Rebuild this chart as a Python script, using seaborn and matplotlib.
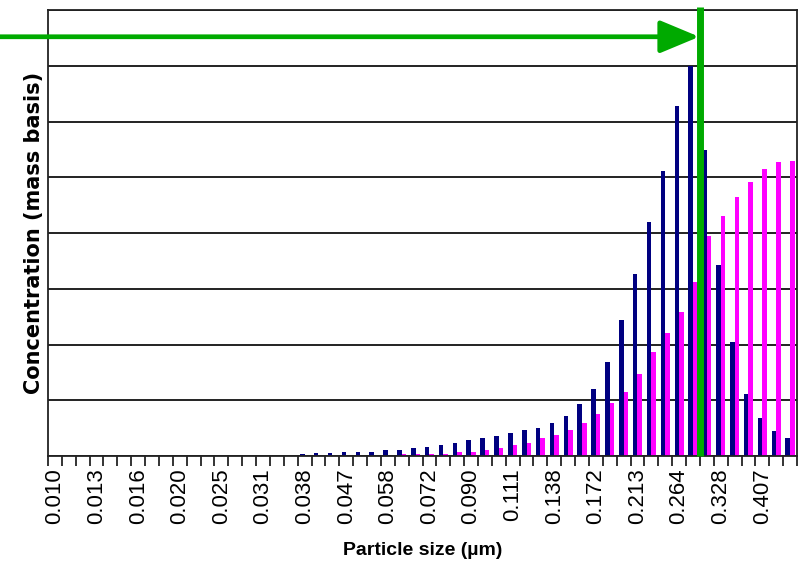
import numpy as np
import pandas as pd
import matplotlib
matplotlib.use("Agg")
import matplotlib.pyplot as plt
import seaborn as sns

# Rótulos visíveis do eixo x (um a cada 3 canais)
rotulos_x = ['0.010', '0.013', '0.016', '0.020', '0.025', '0.031', '0.038',
             '0.047', '0.058', '0.072', '0.090', '0.111', '0.138', '0.172',
             '0.213', '0.264', '0.328', '0.407']

serie_azul = [0.0] * 18 + [
    0.04, 0.045, 0.05, 0.07, 0.07, 0.08, 0.10, 0.11, 0.14, 0.16,
    0.20, 0.23, 0.29, 0.32, 0.36, 0.42, 0.47, 0.51, 0.60, 0.72,
    0.93, 1.21, 1.69, 2.44, 3.26, 4.19, 5.11, 6.27, 7.00, 5.49,
    3.43, 2.04, 1.12, 0.69, 0.44, 0.32]

serie_rosa = [0.0] * 25 + [
    0.03, 0.03, 0.03, 0.03, 0.07, 0.07, 0.11, 0.14, 0.20, 0.23,
    0.32, 0.38, 0.47, 0.60, 0.75, 0.95, 1.15, 1.47, 1.87, 2.21,
    2.59, 3.13, 3.95, 4.30, 4.64, 4.92, 5.14, 5.27, 5.30]

canal_corte = 46.5   # posição da linha verde vertical
nivel_seta = 7.52    # altura da seta verde

n_canais = len(serie_azul)
canais = list(range(n_canais))

df = pd.DataFrame({
    'canal': canais * 2,
    'conc': serie_azul + serie_rosa,
    'serie': ['azul'] * n_canais + ['rosa'] * n_canais,
})

sns.set_style("white")
plt.rcParams['font.family'] = ['Liberation Sans', 'DejaVu Sans']
plt.rcParams['text.color'] = 'black'
plt.rcParams['axes.labelcolor'] = 'black'
plt.rcParams['xtick.color'] = 'black'

verde = '#00aa00'

fig = plt.figure(figsize=(8.02, 5.68), dpi=100)
ax = fig.add_axes([48 / 802, 112 / 568, 749 / 802, 446 / 568])

sns.barplot(data=df, x='canal', y='conc', hue='serie',
            palette=['#000080', '#ff00ff'], width=0.66, saturation=1,
            errorbar=None, legend=False, linewidth=0, ax=ax)

ax.set_xlim(-0.5, n_canais - 0.5)
ax.set_ylim(0, 8)

ax.set_xticks(range(0, n_canais, 3), rotulos_x, rotation=90, fontsize=16)
ax.set_xticks(np.arange(-0.5, n_canais, 1), minor=True)
ax.tick_params(axis='x', which='major', length=0, pad=9)
ax.tick_params(axis='x', which='minor', length=7, width=1.2,
               color='#111111', direction='out', bottom=True)

ax.set_yticks(range(9))
ax.tick_params(axis='y', length=0, labelleft=False)
ax.grid(axis='y', color='#111111', lw=1.3)
ax.grid(axis='x', visible=False)
ax.set_axisbelow(True)

for lado in ax.spines.values():
    lado.set_visible(True)
    lado.set_color('#222222')
    lado.set_linewidth(1.3)

# Linha verde vertical e seta
ax.plot([canal_corte, canal_corte], [0, 8.055], color=verde, lw=5,
        clip_on=False, zorder=6, solid_capstyle='butt')
ax.annotate('', xy=(canal_corte - 0.05, nivel_seta),
            xytext=(0, nivel_seta), textcoords=('figure fraction', 'data'),
            arrowprops=dict(arrowstyle='-|>,head_length=2.4,head_width=1.0',
                            color=verde, lw=3.4, shrinkA=0, shrinkB=0),
            annotation_clip=False, zorder=5)

ax.set_xlabel('Particle size (µm)', fontsize=14, fontweight='bold')
ax.xaxis.set_label_coords(0.5, -0.193)
ax.set_ylabel('Concentration (mass basis)', fontsize=15, fontweight='bold',
              family='DejaVu Sans', labelpad=3)

fig.savefig('out.png', dpi=100)
